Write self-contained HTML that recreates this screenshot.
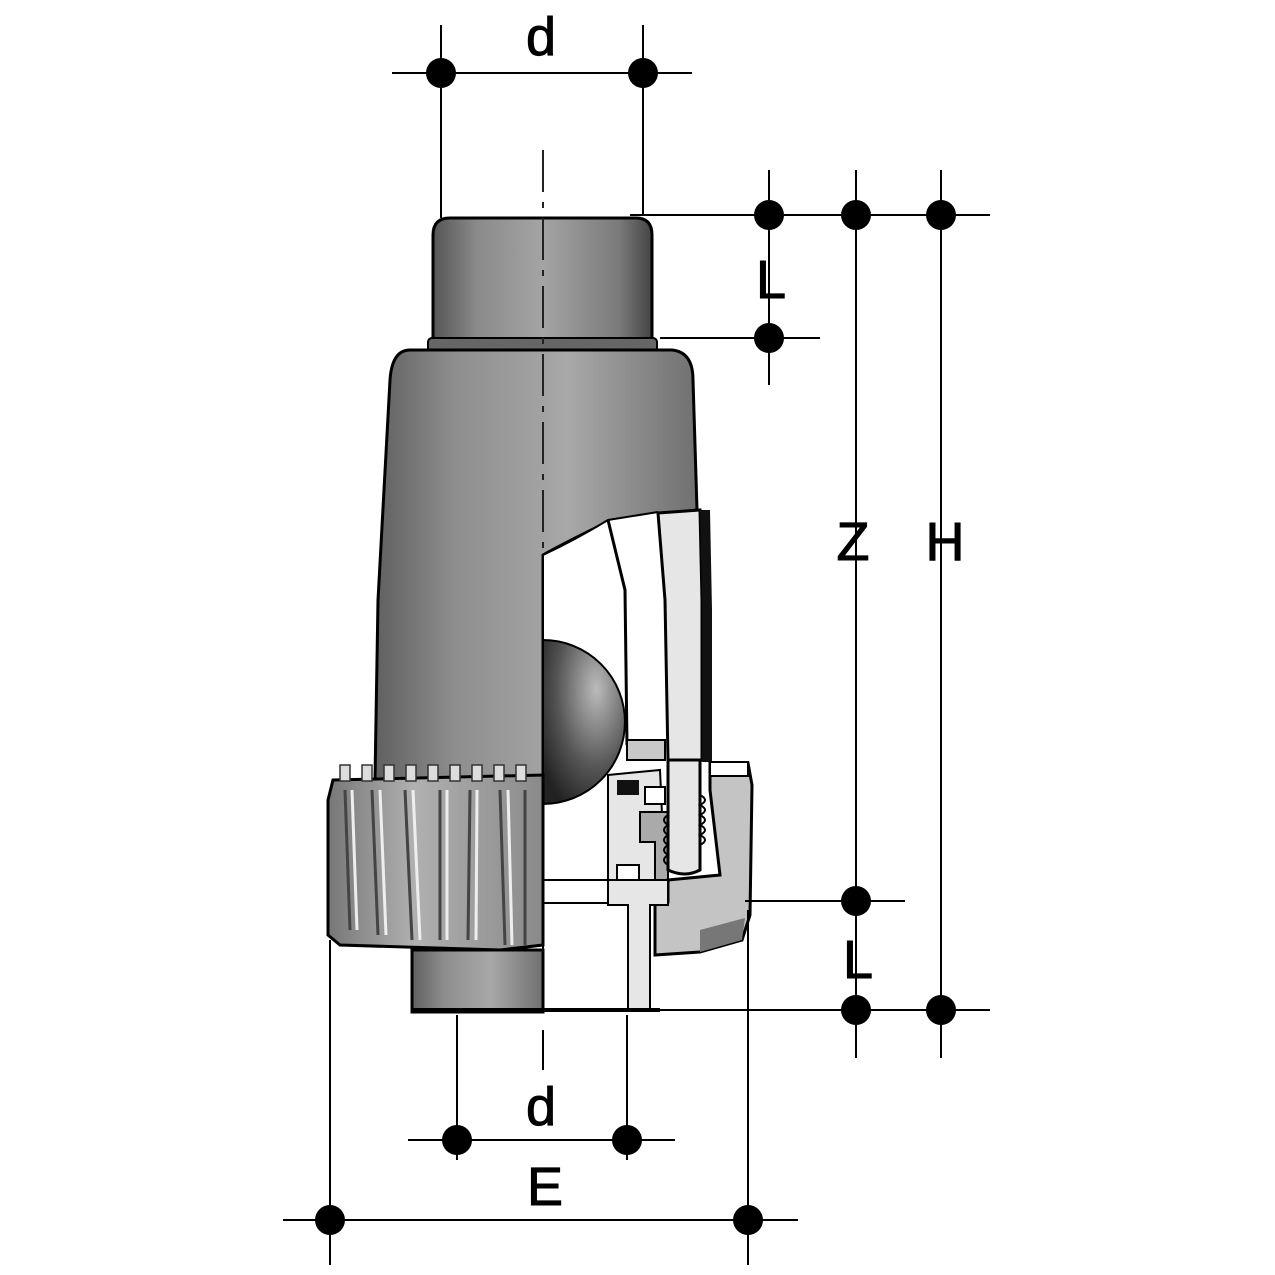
<!DOCTYPE html>
<html><head><meta charset="utf-8"><style>html,body{margin:0;padding:0;background:#fff}svg{display:block}</style></head>
<body>
<svg width="1275" height="1275" viewBox="0 0 1275 1275" xmlns="http://www.w3.org/2000/svg">
<defs>
<linearGradient id="g" x1="0" x2="1" y1="0" y2="0">
<stop offset="0" stop-color="#555"/><stop offset="0.2" stop-color="#8a8a8a"/><stop offset="0.5" stop-color="#a4a4a4"/><stop offset="0.85" stop-color="#7a7a7a"/><stop offset="1" stop-color="#444"/>
</linearGradient>
<linearGradient id="gb" x1="0" x2="1" y1="0" y2="0">
<stop offset="0" stop-color="#606060"/><stop offset="0.25" stop-color="#8e8e8e"/><stop offset="0.6" stop-color="#a8a8a8"/><stop offset="1" stop-color="#707070"/>
</linearGradient>
<linearGradient id="gn" x1="0" x2="1" y1="0" y2="0">
<stop offset="0" stop-color="#777"/><stop offset="0.4" stop-color="#b0b0b0"/><stop offset="1" stop-color="#8a8a8a"/>
</linearGradient>
<radialGradient id="ball" cx="0.65" cy="0.3" r="0.8">
<stop offset="0" stop-color="#bbb"/><stop offset="0.6" stop-color="#555"/><stop offset="1" stop-color="#222"/>
</radialGradient>
</defs>

<path d="M433,235 Q433,218 450,218 L636,218 Q652,218 652,235 L652,340 L433,340 Z" fill="url(#g)" stroke="#000" stroke-width="3"/>
<rect x="428" y="338" width="229" height="14" rx="4" fill="#666" stroke="#000" stroke-width="2"/>

<path d="M410,350 L672,350 Q693,352 693,380 L697,510 L612,520 Q570,540 543,555 L543,780 L375,780 L378,600 L390,380 Q392,350 410,350 Z" fill="url(#gb)" stroke="#000" stroke-width="3"/>

<path d="M543,555 Q575,540 608,520 L658,512 L703,510 L712,610 L712,762 L543,762 Z" fill="#fff"/>
<path d="M543,555 Q575,540 608,520 L658,512" fill="none" stroke="#000" stroke-width="2"/>
<path d="M608,520 L625,590 L627,745" fill="none" stroke="#000" stroke-width="3"/>
<path d="M658,513 L700,510 L702,600 L702,760 L668,760 L665,600 Z" fill="#e6e6e6" stroke="#000" stroke-width="3"/>
<path d="M700,510 L710,510 L712,610 L712,762 L702,762 L702,600 Z" fill="#111"/>

<path d="M543,640 A82,82 0 0 1 543,804 Z" fill="url(#ball)" stroke="#000" stroke-width="2"/>

<path d="M333,780 L543,775 L543,945 L500,950 L340,945 L328,935 L328,800 Z" fill="url(#gn)" stroke="#000" stroke-width="3"/>
<g stroke="#444" stroke-width="3" fill="none">
<path d="M345,790 L350,930"/><path d="M372,790 L378,935"/><path d="M405,790 L412,940"/><path d="M440,790 L440,940"/><path d="M470,790 L468,940"/><path d="M500,790 L505,945"/><path d="M525,790 L525,945"/>
</g>
<g stroke="#eee" stroke-width="3" fill="none">
<path d="M352,790 L357,930"/><path d="M380,790 L386,935"/><path d="M413,790 L420,940"/><path d="M447,790 L447,940"/><path d="M477,790 L476,940"/><path d="M508,790 L512,945"/>
</g>
<g fill="#ddd" stroke="#333" stroke-width="1.5">
<rect x="340" y="765" width="10" height="16"/><rect x="362" y="765" width="10" height="16"/><rect x="384" y="765" width="10" height="16"/><rect x="406" y="765" width="10" height="16"/><rect x="428" y="765" width="10" height="16"/><rect x="450" y="765" width="10" height="16"/><rect x="472" y="765" width="10" height="16"/><rect x="494" y="765" width="10" height="16"/><rect x="516" y="765" width="10" height="16"/>
</g>
<rect x="412" y="950" width="131" height="62" fill="url(#gb)" stroke="#000" stroke-width="3"/>

<path d="M627,740 L665,740 L665,760 L627,760 Z" fill="#c8c8c8" stroke="#000" stroke-width="2"/>
<path d="M608,775 L660,770 L665,880 L608,880 Z" fill="#e6e6e6" stroke="#000" stroke-width="2"/>
<rect x="617" y="780" width="22" height="15" fill="#111"/>
<rect x="645" y="787" width="20" height="17" fill="#fff" stroke="#000" stroke-width="2"/>
<rect x="617" y="865" width="22" height="15" fill="#fff" stroke="#000" stroke-width="2"/>
<path d="M640,812 L668,812 L668,880 L655,880 L655,842 L640,842 Z" fill="#aaa" stroke="#000" stroke-width="2"/>
<path d="M710,763 L748,763 L752,785 L750,915 L742,940 L700,952 L655,955 L655,905 L668,902 L668,880 L720,875 L710,790 Z" fill="#c4c4c4" stroke="#000" stroke-width="3"/>
<path d="M700,930 L745,918 L742,940 L700,952 Z" fill="#777"/>
<rect x="710" y="762" width="38" height="14" fill="#fff" stroke="#000" stroke-width="2"/>
<path d="M668,760 L700,760 L700,870 Q685,878 668,870 Z" fill="#e6e6e6" stroke="#000" stroke-width="3"/>
<g fill="none" stroke="#000" stroke-width="2"><path d="M668,815 q-8,5 0,10 q-8,5 0,10 q-8,5 0,10 q-8,5 0,10 q-8,5 0,10"/><path d="M700,795 q10,5 0,10 q10,5 0,10 q10,5 0,10 q10,5 0,10 q10,5 0,10"/></g>
<path d="M608,880 L668,880 L668,905 L650,905 L650,1010 L628,1010 L628,905 L608,905 Z" fill="#e6e6e6" stroke="#000" stroke-width="2"/>
<path d="M543,880 L608,880 M543,903 L608,903" stroke="#000" stroke-width="2"/>
<path d="M412,1010 L660,1010" stroke="#000" stroke-width="4"/>
<path d="M543,555 L543,1010" stroke="#000" stroke-width="2"/>
<path d="M543,150 V550" stroke="#222" stroke-width="2" stroke-dasharray="42,10,6,10"/>

<g stroke="#000" stroke-width="2" fill="none">
<path d="M392,73 H692 M441,25 V218 M643,25 V215"/>
<path d="M630,215 H990 M660,338 H820 M769,170 V385 M856,170 V1058 M941,170 V1058"/>
<path d="M745,901 H905 M660,1010 H990"/>
<path d="M408,1140 H675 M457,1015 V1160 M627,1015 V1160 M543,1030 V1070"/>
<path d="M283,1220 H798 M330,940 V1265 M748,910 V1265"/>
</g>
<g fill="#000">
<circle cx="441" cy="73" r="15"/><circle cx="643" cy="73" r="15"/>
<circle cx="769" cy="215" r="15"/><circle cx="856" cy="215" r="15"/><circle cx="941" cy="215" r="15"/>
<circle cx="769" cy="338" r="15"/>
<circle cx="856" cy="901" r="15"/><circle cx="856" cy="1010" r="15"/><circle cx="941" cy="1010" r="15"/>
<circle cx="457" cy="1140" r="15"/><circle cx="627" cy="1140" r="15"/>
<circle cx="330" cy="1220" r="15"/><circle cx="748" cy="1220" r="15"/>
</g>
<g font-family="Liberation Sans, sans-serif" font-size="54" fill="#000" text-anchor="middle" stroke="#000" stroke-width="1">
<text x="541" y="55">d</text>
<text x="771" y="298">L</text>
<text x="853" y="560">Z</text>
<text x="945" y="560">H</text>
<text x="858" y="978">L</text>
<text x="541" y="1125">d</text>
<text x="545" y="1205">E</text>
</g>
</svg>
</body></html>
